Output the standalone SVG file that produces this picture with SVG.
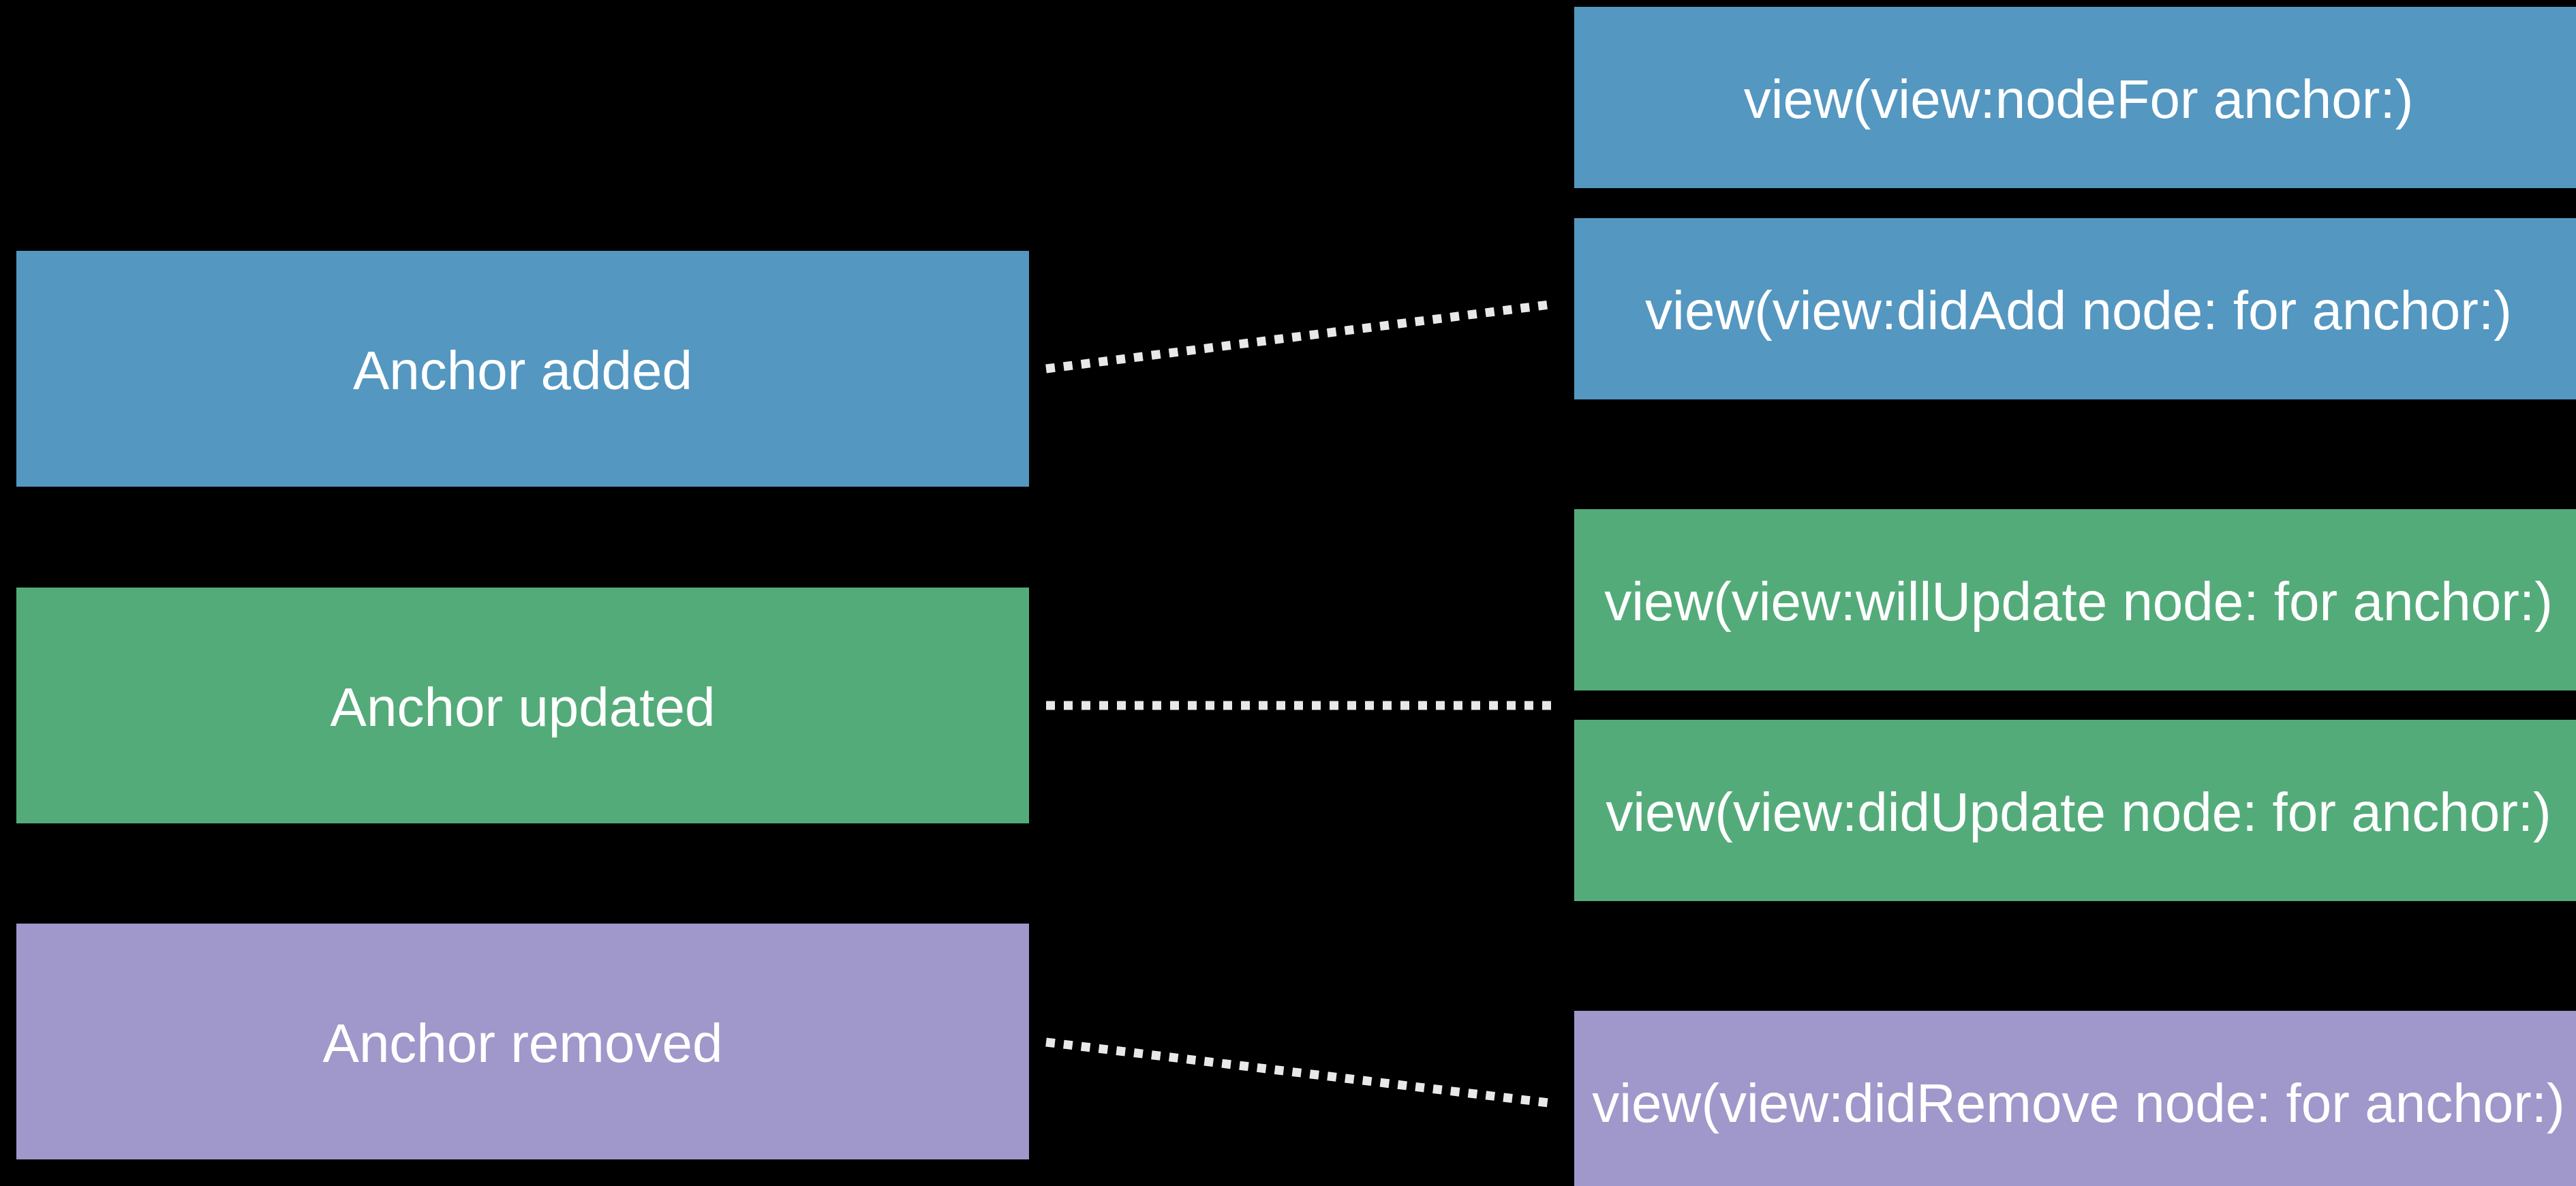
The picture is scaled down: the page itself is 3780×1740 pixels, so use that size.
<svg xmlns="http://www.w3.org/2000/svg" width="3780" height="1740" viewBox="0 0 3780 1740">
  <style>
    .bg { fill: #000000; }
    .blue { fill: #5497C1; }
    .green { fill: #54AB7A; }
    .purple { fill: #A097CB; }
    .label { font-family: "Liberation Sans", Arial, sans-serif; font-size: 80px; fill: #FFFFFF; text-anchor: middle; }
    .link { stroke: #E8E8E8; stroke-width: 13; stroke-dasharray: 13 13; fill: none; }
  </style>
  <rect class="bg" x="0" y="0" width="3780" height="1740"/>

  <!-- anchor events -->
  <g id="anchor-added">
    <rect class="blue" x="24" y="368" width="1486" height="346"/>
    <text class="label" x="767" y="571">Anchor added</text>
  </g>
  <g id="anchor-updated">
    <rect class="green" x="24" y="862" width="1486" height="346"/>
    <text class="label" x="767" y="1065">Anchor updated</text>
  </g>
  <g id="anchor-removed">
    <rect class="purple" x="24" y="1355" width="1486" height="346"/>
    <text class="label" x="767" y="1558">Anchor removed</text>
  </g>

  <!-- delegate callbacks -->
  <g id="node-for">
    <rect class="blue" x="2310" y="10" width="1480" height="266"/>
    <text class="label" x="3050" y="173">view(view:nodeFor anchor:)</text>
  </g>
  <g id="did-add">
    <rect class="blue" x="2310" y="320" width="1480" height="266"/>
    <text class="label" x="3050" y="483">view(view:didAdd node: for anchor:)</text>
  </g>
  <g id="will-update">
    <rect class="green" x="2310" y="747" width="1480" height="266"/>
    <text class="label" x="3050" y="910">view(view:willUpdate node: for anchor:)</text>
  </g>
  <g id="did-update">
    <rect class="green" x="2310" y="1056" width="1480" height="266"/>
    <text class="label" x="3050" y="1219">view(view:didUpdate node: for anchor:)</text>
  </g>
  <g id="did-remove">
    <rect class="purple" x="2310" y="1483" width="1480" height="266"/>
    <text class="label" x="3050" y="1646">view(view:didRemove node: for anchor:)</text>
  </g>

  <!-- dotted connectors -->
  <g id="connectors">
    <line class="link" x1="1535" y1="541" x2="2281" y2="446"/>
    <line class="link" x1="1535" y1="1035" x2="2282" y2="1035"/>
    <line class="link" x1="1535" y1="1529" x2="2281" y2="1619"/>
  </g>
</svg>
